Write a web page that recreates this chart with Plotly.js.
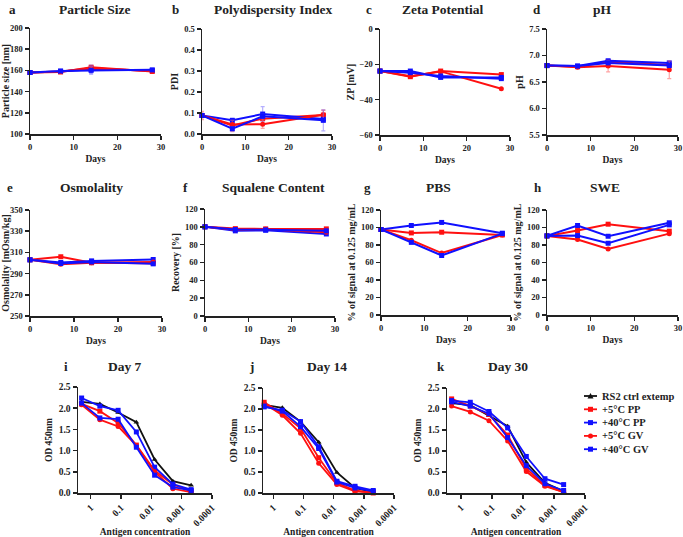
<!DOCTYPE html>
<html><head><meta charset="utf-8">
<script src="https://cdn.plot.ly/plotly-3.0.1.min.js"></script>
<style>html,body{margin:0;padding:0;background:#fff}#c{width:683px;height:537px}</style>
</head><body><div id="c"></div>
<script>
// ---------- DATA ----------
const days = [0, 7, 14, 28];
const seriesNames = ['+5°C PP', '+40°C PP', '+5°C GV', '+40°C GV'];
const ctrlName = 'RS2 ctrl extemp';

const size_5PP  = [158, 158.5, 163, 159];
const size_40PP = [158, 159, 161, 160];
const size_5GV  = [158, 159, 162, 159.5];
const size_40GV = [158, 159.5, 160, 160.5];
const size_err_5PP  = [0.5, 1, 1.5, 1];
const size_err_40PP = [0.5, 1, 4, 1.5];
const size_err_5GV  = [0.5, 1, 1.5, 1];
const size_err_40GV = [0.5, 1, 3.5, 1];

const pdi_5PP  = [0.088, 0.041, 0.073, 0.090];
const pdi_40PP = [0.088, 0.065, 0.095, 0.071];
const pdi_5GV  = [0.088, 0.045, 0.047, 0.092];
const pdi_40GV = [0.088, 0.025, 0.084, 0.065];
const pdi_err_5PP  = [0.02, 0.03, 0.02, 0.025];
const pdi_err_40PP = [0.01, 0.01, 0.035, 0.01];
const pdi_err_5GV  = [0.01, 0.02, 0.02, 0.02];
const pdi_err_40GV = [0.005, 0.01, 0.01, 0.05];

const zp_5PP  = [-23.8, -27.0, -23.8, -25.8];
const zp_40PP = [-23.8, -23.8, -27.4, -27.4];
const zp_5GV  = [-23.8, -26.8, -24.0, -33.8];
const zp_40GV = [-23.8, -24.7, -26.6, -28.1];

const ph_5PP  = [6.81, 6.79, 6.88, 6.82];
const ph_40PP = [6.81, 6.80, 6.90, 6.86];
const ph_5GV  = [6.81, 6.78, 6.80, 6.73];
const ph_40GV = [6.81, 6.80, 6.86, 6.81];
const ph_err_5PP  = [0.01, 0.02, 0.03, 0.03];
const ph_err_40PP = [0.01, 0.02, 0.03, 0.03];
const ph_err_5GV  = [0.01, 0.02, 0.11, 0.165];
const ph_err_40GV = [0.01, 0.02, 0.03, 0.03];

const osm_5PP  = [303, 305.9, 300.2, 299.8];
const osm_40PP = [303, 300.5, 302.0, 303.3];
const osm_5GV  = [303, 298.9, 300.2, 301.0];
const osm_40GV = [303, 299.5, 301.0, 299.2];

const sq_5PP  = [100, 98.0, 97.7, 97.7];
const sq_40PP = [100, 95.5, 96.2, 92.0];
const sq_5GV  = [100, 96.6, 97.4, 94.0];
const sq_40GV = [100, 97.0, 96.6, 95.5];

const pbs_5PP  = [97.7, 93.8, 94.6, 91.5];
const pbs_40PP = [97.7, 102.3, 105.8, 93.5];
const pbs_5GV  = [97.7, 85.4, 70.8, 91.5];
const pbs_40GV = [97.7, 83.0, 68.0, 93.0];

const swe_5PP  = [90.4, 96.5, 103.8, 95.8];
const swe_40PP = [90.4, 102.3, 90.0, 105.4];
const swe_5GV  = [90.4, 86.2, 75.4, 93.0];
const swe_40GV = [90.4, 90.8, 82.0, 103.0];

const conc = [2, 0.5, 0.125, 0.03125, 0.0078125, 0.001953125, 0.00048828125];
const concTickVals = [1, 0.1, 0.01, 0.001, 0.0001];
const concTickText = ['1', '0.1', '0.01', '0.001', '0.0001'];

const day7_ctrl = [2.15, 2.10, 1.90, 1.67, 0.79, 0.28, 0.18];
const day7_5PP  = [2.10, 1.93, 1.65, 1.13, 0.53, 0.20, 0.04];
const day7_40PP = [2.24, 2.05, 1.95, 1.44, 0.61, 0.21, 0.08];
const day7_5GV  = [2.08, 1.73, 1.57, 1.12, 0.50, 0.10, 0.02];
const day7_40GV = [2.12, 1.77, 1.74, 1.08, 0.42, 0.14, 0.06];

const day14_ctrl = [2.10, 2.03, 1.70, 1.21, 0.49, 0.12, 0.02];
const day14_5PP  = [2.16, 1.89, 1.54, 0.84, 0.24, 0.06, 0.00];
const day14_40PP = [2.05, 1.97, 1.70, 1.10, 0.28, 0.16, 0.06];
const day14_5GV  = [2.13, 1.85, 1.42, 0.71, 0.20, 0.04, 0.01];
const day14_40GV = [2.07, 1.95, 1.58, 1.06, 0.26, 0.12, 0.04];

const day30_ctrl = [2.14, 2.09, 1.84, 1.59, 0.73, 0.24, 0.04];
const day30_5PP  = [2.24, 2.07, 1.87, 1.38, 0.58, 0.18, 0.02];
const day30_40PP = [2.20, 2.16, 1.94, 1.55, 0.87, 0.34, 0.20];
const day30_5GV  = [2.07, 1.93, 1.72, 1.24, 0.51, 0.16, 0.02];
const day30_40GV = [2.17, 2.07, 1.89, 1.32, 0.65, 0.22, 0.06];

// ---------- STYLE / LAYOUT ----------
const W = 683, H = 537;
const RED = '#ff1010', BLUE = '#1010ff', BLACK = '#111111';
const colors = [RED, BLUE, RED, BLUE];
const symbols = ['square', 'square', 'circle', 'square'];
const errColors = ['rgba(255,90,90,0.55)', 'rgba(120,110,255,0.55)', 'rgba(255,90,90,0.55)', 'rgba(120,110,255,0.55)'];
const FONT = 'Liberation Serif, Times New Roman, serif';

const panels = [
  {px:[30,161],  py:[28,134],  yr:[100,200], dt:20,  fmt:'',   yt:'Particle size [nm]', data:[size_5PP,size_40PP,size_5GV,size_40GV], err:[size_err_5PP,size_err_40PP,size_err_5GV,size_err_40GV], letter:'a', title:'Particle Size', lx:12, tx:95, ty:9},
  {px:[202,332], py:[29,134],  yr:[0,0.5],   dt:0.1, fmt:'.1f',yt:'PDI', data:[pdi_5PP,pdi_40PP,pdi_5GV,pdi_40GV], err:[pdi_err_5PP,pdi_err_40PP,pdi_err_5GV,pdi_err_40GV], letter:'b', title:'Polydispersity Index', lx:175, tx:273, ty:9},
  {px:[380,510], py:[29,135],  yr:[-60,0],   dt:20,  fmt:'',   yt:'ZP [mV]', data:[zp_5PP,zp_40PP,zp_5GV,zp_40GV], letter:'c', title:'Zeta Potential', lx:369, tx:443, ty:9},
  {px:[547,678], py:[29,135],  yr:[5.5,7.5], dt:0.5, fmt:'.1f',yt:'pH', data:[ph_5PP,ph_40PP,ph_5GV,ph_40GV], err:[ph_err_5PP,ph_err_40PP,ph_err_5GV,ph_err_40GV], letter:'d', title:'pH', lx:537, tx:602, ty:9},
  {px:[30,162],  py:[210,316], yr:[250,350], dt:20,  fmt:'',   yt:'Osmolality [mOsm/kg]', data:[osm_5PP,osm_40PP,osm_5GV,osm_40GV], letter:'e', title:'Osmolality', lx:10, tx:91, ty:187},
  {px:[205,335], py:[209,316], yr:[0,120],   dt:20,  fmt:'',   yt:'Recovery [%]', data:[sq_5PP,sq_40PP,sq_5GV,sq_40GV], letter:'f', title:'Squalene Content', lx:185, tx:273, ty:187},
  {px:[381,511], py:[210,315], yr:[0,120],   dt:20,  fmt:'',   yt:'% of signal at 0.125 mg/mL', data:[pbs_5PP,pbs_40PP,pbs_5GV,pbs_40GV], letter:'g', title:'PBS', lx:367, tx:438, ty:187},
  {px:[547,678], py:[210,315], yr:[0,120],   dt:20,  fmt:'',   yt:'% of signal at 0.125 mg/mL', data:[swe_5PP,swe_40PP,swe_5GV,swe_40GV], letter:'h', title:'SWE', lx:538, tx:605, ty:187}
];
const elisa = [
  {px:[78,212],  py:[387,493], xr:[0.42,-4], data:[day7_ctrl,day7_5PP,day7_40PP,day7_5GV,day7_40GV], letter:'i', title:'Day 7', lx:66, tx:125, ty:366},
  {px:[263,394], py:[388,493], xr:[0.34,-4], data:[day14_ctrl,day14_5PP,day14_40PP,day14_5GV,day14_40GV], letter:'j', title:'Day 14', lx:251, tx:327, ty:366},
  {px:[447,585], py:[388,493], xr:[0.45,-4], data:[day30_ctrl,day30_5PP,day30_40PP,day30_5GV,day30_40GV], letter:'k', title:'Day 30', lx:441, tx:508, ty:366}
];
const elisaNames = [ctrlName].concat(seriesNames);
const elisaColors = [BLACK, RED, BLUE, RED, BLUE];
const elisaSymbols = ['triangle-up', 'square', 'square', 'circle', 'square'];

function axBase(size){
  return {showline:true, linecolor:'#222', linewidth:1.5, ticks:'outside', ticklen:4, tickwidth:1.5,
          tickcolor:'#222', showgrid:false, zeroline:false, fixedrange:true,
          tickfont:{family:FONT, size:size, weight:'bold', color:'#222'}};
}
const layout = {width:W, height:H, margin:{l:0,r:0,t:0,b:0}, paper_bgcolor:'#fff', plot_bgcolor:'rgba(0,0,0,0)',
  showlegend:false, font:{family:FONT, color:'#222', weight:'bold'}, annotations:[], shapes:[]};
const traces = [];
const titleFont = {family:FONT, size:13.5, weight:'bold', color:'#222'};
const letterFont = {family:FONT, size:13, weight:'bold', color:'#222'};

function addTitle(p){
  layout.annotations.push({xref:'paper', yref:'paper', x:p.lx/W, y:1-p.ty/H, text:p.letter, showarrow:false, font:letterFont, xanchor:'center', yanchor:'middle'});
  layout.annotations.push({xref:'paper', yref:'paper', x:p.tx/W, y:1-p.ty/H, text:p.title, showarrow:false, font:titleFont, xanchor:'center', yanchor:'middle'});
}

panels.forEach((p, i) => {
  const n = i + 1, sfx = n === 1 ? '' : String(n);
  const xa = Object.assign(axBase(8.5), {domain:[p.px[0]/W, p.px[1]/W], range:[0,30], tickvals:[0,10,20,30], anchor:'y'+sfx,
    title:{text:'Days', font:{family:FONT, size:9.5, weight:'bold'}, standoff:4}});
  const ya = Object.assign(axBase(8.5), {domain:[1-p.py[1]/H, 1-p.py[0]/H], range:p.yr, dtick:p.dt, tick0:p.yr[0], anchor:'x'+sfx,
    title:{text:p.yt, font:{family:FONT, size:10, weight:'bold'}, standoff:3}});
  if (p.fmt) ya.tickformat = p.fmt;
  layout['xaxis'+sfx] = xa; layout['yaxis'+sfx] = ya;
  p.data.forEach((d, k) => {
    const t = {x:days, y:d, xaxis:'x'+sfx, yaxis:'y'+sfx, type:'scatter', mode:'lines+markers', name:seriesNames[k],
      line:{color:colors[k], width:2}, marker:{color:colors[k], symbol:symbols[k], size:5}, cliponaxis:false};
    if (p.err) t.error_y = {type:'data', array:p.err[k], visible:true, color:errColors[k], thickness:1.2, width:2};
    traces.push(t);
  });
  addTitle(p);
});

elisa.forEach((p, i) => {
  const n = panels.length + i + 1, sfx = String(n);
  const xa = Object.assign(axBase(9.5), {domain:[p.px[0]/W, p.px[1]/W], type:'log', range:p.xr, tickvals:concTickVals, ticktext:concTickText,
    tickangle:-45, anchor:'y'+sfx, title:{text:'Antigen concentration', font:{family:FONT, size:9.5, weight:'bold'}, standoff:4}});
  const ya = Object.assign(axBase(9.5), {domain:[1-p.py[1]/H, 1-p.py[0]/H], range:[0,2.5], dtick:0.5, tick0:0, tickformat:'.1f', anchor:'x'+sfx,
    title:{text:'OD 450nm', font:{family:FONT, size:9.5, weight:'bold'}, standoff:4}});
  layout['xaxis'+sfx] = xa; layout['yaxis'+sfx] = ya;
  p.data.forEach((d, k) => {
    traces.push({x:conc, y:d, xaxis:'x'+sfx, yaxis:'y'+sfx, type:'scatter', mode:'lines+markers', name:elisaNames[k],
      line:{color:elisaColors[k], width:1.8}, marker:{color:elisaColors[k], symbol:elisaSymbols[k], size:5}, cliponaxis:false});
  });
  addTitle(p);
});

// manual legend (compact, like the reference)
const legX0 = 584, legX1 = 597, legTextX = 600, legY0 = 396, legDy = 13.3;
elisaNames.forEach((name, k) => {
  const y = legY0 + k*legDy;
  layout.shapes.push({type:'line', xref:'paper', yref:'paper', x0:legX0/W, x1:legX1/W, y0:1-y/H, y1:1-y/H, line:{color:elisaColors[k], width:1.8}});
  const s = 2.5;
  if (elisaSymbols[k] === 'circle') {
    layout.shapes.push({type:'circle', xref:'paper', yref:'paper', x0:(590.5-s)/W, x1:(590.5+s)/W, y0:1-(y+s)/H, y1:1-(y-s)/H, fillcolor:elisaColors[k], line:{width:0}});
  } else if (elisaSymbols[k] === 'triangle-up') {
    const cx = 590.5/W, top = 1-(y-3)/H, bot = 1-(y+2.5)/H, hw = 3/W;
    layout.shapes.push({type:'path', xref:'paper', yref:'paper', path:`M ${cx-hw} ${bot} L ${cx+hw} ${bot} L ${cx} ${top} Z`, fillcolor:elisaColors[k], line:{width:0}});
  } else {
    layout.shapes.push({type:'rect', xref:'paper', yref:'paper', x0:(590.5-s)/W, x1:(590.5+s)/W, y0:1-(y+s)/H, y1:1-(y-s)/H, fillcolor:elisaColors[k], line:{width:0}});
  }
  layout.annotations.push({xref:'paper', yref:'paper', x:legTextX/W, y:1-y/H, text:name, showarrow:false, xanchor:'left', yanchor:'middle',
    font:{family:FONT, size:10.5, weight:'bold', color:'#222'}});
});

Plotly.newPlot('c', traces, layout, {staticPlot:true, displayModeBar:false});
</script></body></html>
